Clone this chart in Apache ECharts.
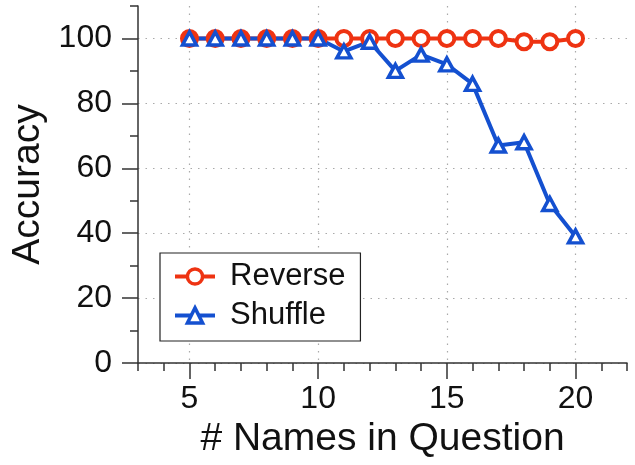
<!DOCTYPE html>
<html>
<head>
<meta charset="utf-8">
<script src="https://cdn.jsdelivr.net/npm/echarts@6/dist/echarts.min.js"></script>
<style>
html,body{margin:0;padding:0;background:#fff;}
#chart{width:635px;height:465px;}
</style>
</head>
<body>
<div id="chart"></div>
<script>
const names = [5, 6, 7, 8, 9, 10, 11, 12, 13, 14, 15, 16, 17, 18, 19, 20];
const reverse = [100, 100, 100, 100, 100, 100, 100, 100, 100, 100, 100, 100, 100, 99, 99, 100];
const shuffle = [100, 100, 100, 100, 100, 100, 96, 99, 90, 95, 92, 86, 67, 68, 49, 39];
const xTickLabels = [5, 10, 15, 20];
const yTickLabels = [0, 20, 40, 60, 80, 100];
const xMinorTicks = [3, 4, 5, 6, 7, 8, 9, 10, 11, 12, 13, 14, 15, 16, 17, 18, 19, 20, 21, 22];
const yMinorTicks = [0, 10, 20, 30, 40, 50, 60, 70, 80, 90, 100, 110];

const RED = '#ee3312';
const BLUE = '#1450d0';
const FONT = '"Liberation Sans", Arial, Helvetica, sans-serif';
const AXIS = '#333';

const chart = echarts.init(document.getElementById('chart'), null, {renderer: 'canvas'});

const gridLine = {show: true, lineStyle: {color: '#aaa', type: [1.5, 6], width: 1.2}};

chart.setOption({
  animation: false,
  backgroundColor: '#fff',
  grid: {left: 138, right: 8, top: 6, bottom: 102, containLabel: false},
  legend: {
    orient: 'vertical',
    left: 160, top: 253,
    padding: [8, 15, 10, 13],
    itemGap: 8,
    itemWidth: 40, itemHeight: 19,
    backgroundColor: '#fff',
    borderColor: '#222', borderWidth: 1.2,
    lineStyle: {width: 4},
    itemStyle: {borderWidth: 3.5},
    textStyle: {fontFamily: FONT, fontSize: 31, color: '#111', padding: [0, 0, 0, 10]},
    data: ['Reverse', 'Shuffle']
  },
  xAxis: [{
    type: 'value', min: 3, max: 22,
    axisLine: {show: true, lineStyle: {color: AXIS, width: 1.5}},
    axisTick: {show: true, length: 16, customValues: xTickLabels, lineStyle: {color: AXIS, width: 1.5}},
    axisLabel: {customValues: xTickLabels, margin: 20, fontFamily: FONT, fontSize: 32, color: '#111'},
    splitLine: gridLine,
    name: '# Names in Question', nameLocation: 'middle', nameGap: 56,
    nameTextStyle: {fontFamily: FONT, fontSize: 39, color: '#111'}
  }, {
    type: 'value', min: 3, max: 22, position: 'bottom',
    axisLine: {show: false},
    axisTick: {show: true, length: 8, customValues: xMinorTicks, lineStyle: {color: AXIS, width: 1.5}},
    axisLabel: {show: false},
    splitLine: {show: false}
  }],
  yAxis: [{
    type: 'value', min: 0, max: 110,
    axisLine: {show: true, lineStyle: {color: AXIS, width: 1.5}},
    axisTick: {show: true, length: 16, customValues: yTickLabels, lineStyle: {color: AXIS, width: 1.5}},
    axisLabel: {customValues: yTickLabels, margin: 26, fontFamily: FONT, fontSize: 32, color: '#111'},
    splitLine: gridLine,
    name: 'Accuracy', nameLocation: 'middle', nameGap: 89,
    nameTextStyle: {fontFamily: FONT, fontSize: 39, color: '#111'}
  }, {
    type: 'value', min: 0, max: 110, position: 'left',
    axisLine: {show: false},
    axisTick: {show: true, length: 8, customValues: yMinorTicks, lineStyle: {color: AXIS, width: 1.5}},
    axisLabel: {show: false},
    splitLine: {show: false}
  }],
  series: [{
    name: 'Reverse', type: 'line',
    xAxisIndex: 0, yAxisIndex: 0,
    symbol: 'circle', symbolSize: 15,
    lineStyle: {color: RED, width: 4},
    itemStyle: {color: '#fff', borderColor: RED, borderWidth: 4},
    data: names.map((n, i) => (n <= 10
      ? {value: [n, reverse[i]], itemStyle: {color: RED, borderColor: RED}}
      : {value: [n, reverse[i]]}))
  }, {
    name: 'Shuffle', type: 'line',
    xAxisIndex: 0, yAxisIndex: 0,
    symbol: 'triangle', symbolSize: [14, 13],
    lineStyle: {color: BLUE, width: 4},
    itemStyle: {color: '#fff', borderColor: BLUE, borderWidth: 3.5},
    data: names.map((n, i) => [n, shuffle[i]])
  }]
});
</script>
</body>
</html>
